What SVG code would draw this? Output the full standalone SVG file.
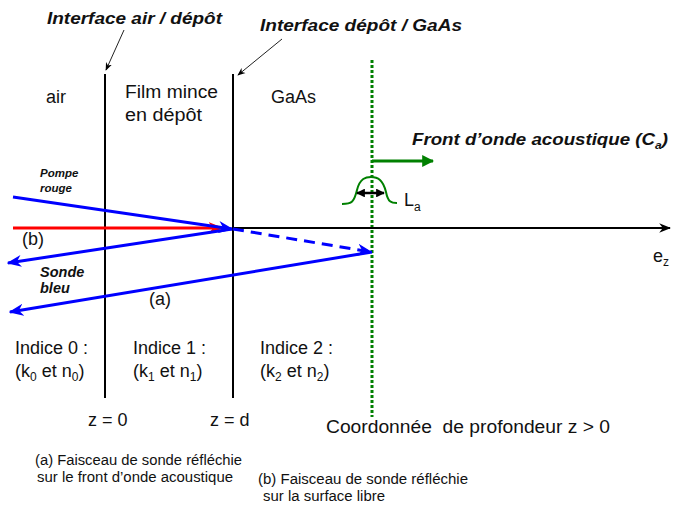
<svg xmlns="http://www.w3.org/2000/svg" width="675" height="507" viewBox="0 0 675 507">
<defs>
<style>
text{font-family:"Liberation Sans",Arial,sans-serif;fill:#111}
.bi{font-weight:bold;font-style:italic}
.r{font-size:18px}
.s{font-size:15.5px}
.blue{stroke:#0000ff;stroke-width:3;fill:none}
.blk{stroke:#000;stroke-width:2;fill:none}
</style>
<marker id="ab" viewBox="0 0 10 10" refX="9" refY="5" markerWidth="5" markerHeight="5" orient="auto" markerUnits="strokeWidth"><path d="M0,1 L10,5 L0,9 L3,5 z" fill="#0000ff"/></marker>
<marker id="ar" viewBox="0 0 10 10" refX="9" refY="5" markerWidth="5" markerHeight="5" orient="auto" markerUnits="strokeWidth"><path d="M0,1 L10,5 L0,9 L3,5 z" fill="#ff0000"/></marker>
<marker id="ak" viewBox="0 0 10 10" refX="9" refY="5" markerWidth="6" markerHeight="6" orient="auto" markerUnits="strokeWidth"><path d="M0,1 L10,5 L0,9 L3,5 z" fill="#000"/></marker>
<marker id="ag" viewBox="0 0 10 10" refX="9" refY="5" markerWidth="4" markerHeight="4" orient="auto" markerUnits="strokeWidth"><path d="M0,0 L10,5 L0,10 z" fill="#008000"/></marker>
<marker id="ak2" viewBox="0 0 10 10" refX="9" refY="5" markerWidth="3.5" markerHeight="3.5" orient="auto-start-reverse" markerUnits="strokeWidth"><path d="M0,0 L10,5 L0,10 z" fill="#000"/></marker>
<marker id="at" viewBox="0 0 10 10" refX="9" refY="5" markerWidth="8" markerHeight="8" orient="auto" markerUnits="strokeWidth"><path d="M0,1 L10,5 L0,9 L3,5 z" fill="#000"/></marker>
</defs>

<g id="interface1">
<line class="blk" x1="105" y1="74" x2="105" y2="398"/>
</g>
<g id="interface2">
<line class="blk" x1="233" y1="74" x2="233" y2="398"/>
</g>
<g id="acoustic-front">
<line x1="372" y1="60" x2="372" y2="417" stroke="#008000" stroke-width="3" stroke-dasharray="3 2"/>
</g>

<g id="connectors">
<line x1="124" y1="30" x2="106" y2="70" stroke="#222" stroke-width="1" marker-end="url(#at)"/>
<line x1="282" y1="39" x2="238" y2="75" stroke="#222" stroke-width="1" marker-end="url(#at)"/>
<line x1="233" y1="228" x2="670" y2="228" stroke="#000" stroke-width="2" marker-end="url(#ak)"/>
<line x1="13" y1="228" x2="222" y2="228" stroke="#ff0000" stroke-width="3" marker-end="url(#ar)"/>
<line class="blue" x1="13" y1="197" x2="232" y2="229" marker-end="url(#ab)"/>
<line class="blue" x1="232" y1="229" x2="8" y2="263" marker-end="url(#ab)"/>
<line class="blue" x1="233" y1="229" x2="371" y2="252" stroke-dasharray="11 7" marker-end="url(#ab)"/>
<line class="blue" x1="372" y1="252" x2="10" y2="312" marker-end="url(#ab)"/>
<line x1="372" y1="161" x2="433" y2="161" stroke="#008000" stroke-width="3" marker-end="url(#ag)"/>
<path d="M342,204 C352,204 354,202 357,190 C360,178 366,177 371,177 C378,177 383,180 386,192 C388,202 391,203 397,203" fill="none" stroke="#008000" stroke-width="2"/>
<line x1="357" y1="193" x2="384" y2="193" stroke="#000" stroke-width="2.5" marker-start="url(#ak2)" marker-end="url(#ak2)"/>
</g>

<g id="labels">
<text class="bi" x="47" y="24" font-size="16.5" textLength="175" lengthAdjust="spacingAndGlyphs">Interface air / dépôt</text>
<text class="bi" x="260" y="31" font-size="16.5" textLength="202" lengthAdjust="spacingAndGlyphs">Interface dépôt / GaAs</text>
<text class="r" x="46" y="103">air</text>
<text class="r" x="125" y="98" textLength="93" lengthAdjust="spacingAndGlyphs">Film mince</text>
<text class="r" x="125" y="121" textLength="77" lengthAdjust="spacingAndGlyphs">en dépôt</text>
<text class="r" x="271" y="103">GaAs</text>
<text class="bi" x="412" y="145" font-size="17" textLength="256" lengthAdjust="spacingAndGlyphs">Front d’onde acoustique (C<tspan font-size="11" dy="4">a</tspan><tspan dy="-4">)</tspan></text>
<text class="r" x="404" y="206">L<tspan font-size="12" dy="5">a</tspan></text>
<text class="r" x="653" y="262">e<tspan font-size="12" dy="4">z</tspan></text>
<text class="bi" x="40" y="177" font-size="11.5">Pompe</text>
<text class="bi" x="40" y="192" font-size="11.5">rouge</text>
<text class="bi" x="40" y="277" font-size="14.5">Sonde</text>
<text class="bi" x="40" y="293" font-size="14.5">bleu</text>
<text class="r" x="22" y="245">(b)</text>
<text class="r" x="149" y="305">(a)</text>
<text class="r" x="15" y="354">Indice 0 :</text>
<text class="r" x="15" y="377">(k<tspan font-size="12" dy="4">0</tspan><tspan dy="-4"> et n</tspan><tspan font-size="12" dy="4">0</tspan><tspan dy="-4">)</tspan></text>
<text class="r" x="133" y="354">Indice 1 :</text>
<text class="r" x="133" y="377">(k<tspan font-size="12" dy="4">1</tspan><tspan dy="-4"> et n</tspan><tspan font-size="12" dy="4">1</tspan><tspan dy="-4">)</tspan></text>
<text class="r" x="260" y="354">Indice 2 :</text>
<text class="r" x="260" y="377">(k<tspan font-size="12" dy="4">2</tspan><tspan dy="-4"> et n</tspan><tspan font-size="12" dy="4">2</tspan><tspan dy="-4">)</tspan></text>
<text class="r" x="88" y="426">z = 0</text>
<text class="r" x="210" y="426">z = d</text>
<text class="r" x="326" y="433" textLength="284" lengthAdjust="spacingAndGlyphs" xml:space="preserve">Coordonnée  de profondeur z &gt; 0</text>
<text class="s" x="35" y="465" textLength="207" lengthAdjust="spacingAndGlyphs">(a) Faisceau de sonde réfléchie</text>
<text class="s" x="37" y="482" textLength="196" lengthAdjust="spacingAndGlyphs">sur le front d’onde acoustique</text>
<text class="s" x="258" y="484" textLength="210" lengthAdjust="spacingAndGlyphs">(b) Faisceau de sonde réfléchie</text>
<text class="s" x="263" y="501" textLength="122" lengthAdjust="spacingAndGlyphs">sur la surface libre</text>
</g>
</svg>
